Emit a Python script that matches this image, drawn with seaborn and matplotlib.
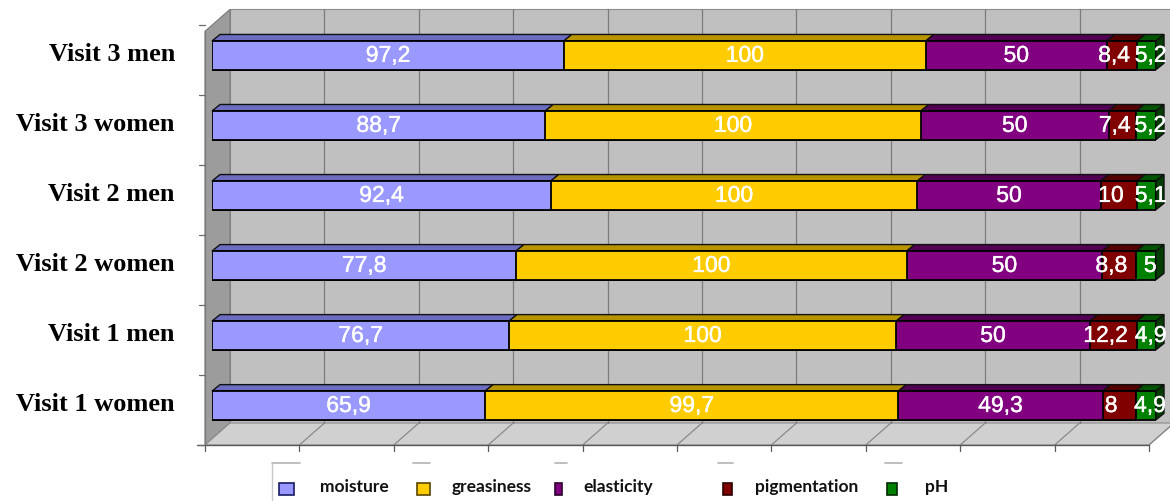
import matplotlib
matplotlib.use("Agg")
import matplotlib.pyplot as plt
import matplotlib.patheffects as pe
from matplotlib.patches import Polygon, Rectangle
from matplotlib.lines import Line2D
from matplotlib.transforms import IdentityTransform, blended_transform_factory, offset_copy
import numpy as np
import pandas as pd
import seaborn as sns

# ---- data -------------------------------------------------------------
groups = ["Visit 3 men", "Visit 3 women", "Visit 2 men",
          "Visit 2 women", "Visit 1 men", "Visit 1 women"]
moisture = [97.2, 88.7, 92.4, 77.8, 76.7, 65.9]
greasiness = [100, 100, 100, 100, 100, 99.7]
elasticity = [50, 50, 50, 50, 50, 49.3]
pigmentation = [8.4, 7.4, 10, 8.8, 12.2, 8]
ph = [5.2, 5.2, 5.1, 5, 4.9, 4.9]
series_names = ["moisture", "greasiness", "elasticity", "pigmentation", "pH"]

# ---- styling ----------------------------------------------------------
front_colors = ["#9999ff", "#ffcc00", "#800080", "#800000", "#008000"]
top_colors = ["#6c6cc0", "#b89400", "#520052", "#520000", "#005200"]
cap_color = "#003c00"
legend_edges = ["#1a1a66", "#5a4600", "#2a002a", "#2a0000", "#002a00"]

sns.set_theme(style="white")
plt.rcParams["font.family"] = ["Liberation Sans", "DejaVu Sans"]

W, H = 1170, 502
fig = plt.figure(figsize=(W / 100, H / 100), dpi=100)
fig.patch.set_facecolor("white")
ax = fig.add_axes([212 / W, 1 - 441.5 / H, 944 / W, 420.2 / H])
ax.patch.set_visible(False)

raw = pd.DataFrame({"group": groups, "moisture": moisture, "greasiness": greasiness,
                    "elasticity": elasticity, "pigmentation": pigmentation, "pH": ph})
vals = raw[series_names]
pct = vals.div(vals.sum(axis=1), axis=0) * 100
cum = pct.cumsum(axis=1)
start = cum - pct
plot_df = cum.assign(group=groups)

BAR_W = 0.41
# stacked 100% bars: draw cumulative totals from the outermost segment inward
for j in reversed(range(len(series_names))):
    sns.barplot(data=plot_df, x=series_names[j], y="group", orient="h",
                color=front_colors[j], saturation=1, width=BAR_W,
                edgecolor="black", linewidth=1.3, errorbar=None, ax=ax, zorder=3)

ax.set_xlim(0, 100)
ax.set_ylim(len(groups) - 0.5, -0.5)
ax.set_axis_off()

ID = IdentityTransform()


def disp(x, y):
    return np.array(ax.transData.transform((x, y)))


def add_poly(pts, fc, ec, lw, z):
    ax.add_artist(Polygon(np.array(pts), closed=True, facecolor=fc, edgecolor=ec,
                          linewidth=lw, transform=ID, clip_on=False, zorder=z))


def add_line(xs, ys, color, lw, z):
    ax.add_artist(Line2D(xs, ys, color=color, linewidth=lw, transform=ID,
                         clip_on=False, zorder=z))


# ---- 3D box: back wall, left wall, floor ------------------------------
FRONT = np.array([-7.0, -4.5])   # floor front edge relative to bar front plane
BACK = np.array([18.0, 17.5])    # back wall plane
BAR_D = np.array([8.0, 6.5])     # bar depth

n = len(groups)
p0_bot = disp(0, n - 0.5)
p100_bot = disp(100, n - 0.5)
p0_top = disp(0, -0.5)
wall_top = p0_top[1] + 11
depth_dy = BACK[1] - FRONT[1]

# back wall
wl = p0_bot[0] + BACK[0]
wr = p100_bot[0] + BACK[0] + 30
wb = p0_bot[1] + BACK[1]
add_poly([[wl, wb], [wr, wb], [wr, wall_top], [wl, wall_top]],
         "#c0c0c0", "#8c8c8c", 0.8, 0.2)
# left wall
add_poly([p0_bot + FRONT, p0_bot + BACK, [wl, wall_top],
          [(p0_bot + FRONT)[0], wall_top - depth_dy]], "#9c9c9c", "#7a7a7a", 0.8, 0.3)
# floor
add_poly([p0_bot + FRONT, p100_bot + FRONT, p100_bot + BACK, p0_bot + BACK],
         "#d0d0d0", "#8c8c8c", 0.8, 0.3)

# gridlines on wall and floor, ticks under the floor edge
for v in range(0, 101, 10):
    pb = disp(v, n - 0.5)
    if 0 < v:
        add_line([pb[0] + BACK[0]] * 2, [pb[1] + BACK[1], wall_top], "#7c7c7c", 0.9, 0.4)
        add_line([pb[0] + FRONT[0], pb[0] + BACK[0]], [pb[1] + FRONT[1], pb[1] + BACK[1]],
                 "#8a8a8a", 0.9, 0.4)
    add_line([pb[0] + FRONT[0]] * 2, [pb[1] + FRONT[1], pb[1] + FRONT[1] - 6],
             "#5a5a5a", 0.9, 0.5)
# floor front edge
add_line([p0_bot[0] + FRONT[0] - 8, p100_bot[0] + FRONT[0]],
         [p0_bot[1] + FRONT[1]] * 2, "#5a5a5a", 1.0, 0.5)
# left axis with category ticks
add_line([p0_bot[0] + FRONT[0]] * 2, [p0_bot[1] + FRONT[1], wall_top - depth_dy],
         "#7a7a7a", 0.9, 0.5)
for k in range(n + 1):
    pk = disp(0, k - 0.5)
    add_line([pk[0] + FRONT[0] - 6, pk[0] + FRONT[0]], [pk[1] + FRONT[1]] * 2,
             "#6a6a6a", 0.9, 0.5)

# ---- bar top faces and end caps ---------------------------------------
for i in range(n):
    for j, name in enumerate(series_names):
        l = start.iloc[i][name]
        r = cum.iloc[i][name]
        tl = disp(l, i - BAR_W / 2)
        tr = disp(r, i - BAR_W / 2)
        add_poly([tl, tr, tr + BAR_D, tl + BAR_D], top_colors[j], "#111111", 1.0, 2)
        if j == len(series_names) - 1:
            br = disp(r, i + BAR_W / 2)
            add_poly([br, tr, tr + BAR_D, br + BAR_D], cap_color, "#111111", 1.0, 2)

# ---- value labels ------------------------------------------------------
nudges = {"pigmentation": -8, "pH": 4}
thick = [pe.withStroke(linewidth=0.3, foreground="white")]
for i in range(n):
    for j, name in enumerate(series_names):
        v = raw.iloc[i][name]
        txt = f"{v:g}".replace(".", ",")
        xc = start.iloc[i][name] + pct.iloc[i][name] / 2
        tr = offset_copy(ax.transData, fig=fig, x=nudges.get(name, 0), y=0, units="dots")
        ax.text(xc, i, txt, transform=tr, ha="center", va="center", color="white",
                fontsize=16.5, family=["Liberation Sans", "DejaVu Sans"], zorder=5,
                clip_on=False, path_effects=thick)

# ---- category labels ---------------------------------------------------
lab_tr = offset_copy(blended_transform_factory(ID, ax.transData), fig=fig,
                     x=0, y=2, units="dots")
for i, g in enumerate(groups):
    ax.text(175, i, g, transform=lab_tr, ha="right", va="center",
            fontsize=19, fontweight="bold", family=["Liberation Serif", "DejaVu Serif"],
            color="black", clip_on=False)

# ---- legend -------------------------------------------------------------
def fy(y):
    return H - y

marker_x = [(279, 15), (417, 13), (555, 7), (723, 9), (887, 10)]
text_x = [320, 452, 583, 755, 925]
top_marks = [(272, 300), (413, 430), (555, 567), (718, 733), (885, 902)]
add_line([272, 272], [fy(464), fy(505)], "#c8c8c8", 1.0, 6)
for (x0, x1) in top_marks:
    add_line([x0, x1], [fy(464), fy(464)], "#b4b4b4", 1.2, 6)
for j, name in enumerate(series_names):
    mx, mw = marker_x[j]
    ax.add_artist(Rectangle((mx, fy(496)), mw, 12, facecolor=front_colors[j],
                            edgecolor=legend_edges[j], linewidth=1.2, transform=ID,
                            clip_on=False, zorder=6))
    ax.text(text_x[j], fy(492), name, transform=ID, ha="left", va="baseline",
            fontsize=12.5, fontweight="bold", family=["Lato", "DejaVu Sans"],
            color="#111111", clip_on=False)

fig.savefig("out.png", dpi=100, facecolor="white")
